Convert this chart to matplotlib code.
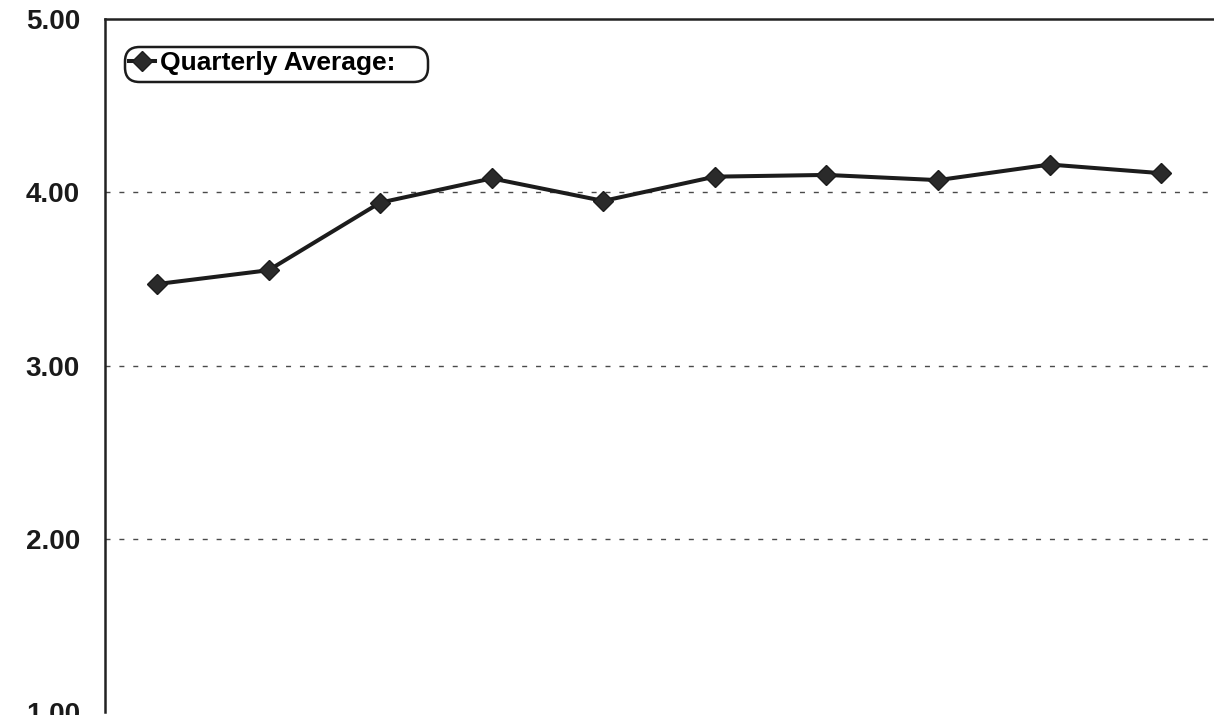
import matplotlib
matplotlib.use("Agg")
import matplotlib.pyplot as plt
from matplotlib.patches import FancyBboxPatch

quarters = list(range(10))
quarterly_avg = [3.47, 3.55, 3.94, 4.08, 3.95, 4.09, 4.10, 4.07, 4.16, 4.11]
y_ticks = [1.0, 2.0, 3.0, 4.0, 5.0]

plt.rcParams['font.family'] = ['Liberation Sans', 'DejaVu Sans']

W, H = 1214, 715
fig = plt.figure(figsize=(W / 100, H / 100), dpi=100)

# plot area in pixels; runs a little past the right and bottom edges
left, right, top, bottom = 105, 1217, 19, 712
ax = fig.add_axes([left / W, 1 - bottom / H, (right - left) / W, (bottom - top) / H])

ax.plot(quarters, quarterly_avg, color="#1c1c1c", lw=2.9, marker="D",
        markersize=10.5, markerfacecolor="#2a2a2a", markeredgecolor="#1c1c1c",
        label="Quarterly Average:", zorder=3)

ax.set_ylim(1, 5)
ax.set_xlim(-0.466, 9.5)
ax.set_yticks(y_ticks)
ax.set_yticklabels([f"{v:.2f}" for v in y_ticks], fontsize=20, fontweight="bold",
                   color="#1a1a1a")
ax.set_xticks([])
ax.tick_params(axis="y", length=0, pad=18)

for v in y_ticks[1:-1]:
    ax.axhline(v, color="#4a4a4a", lw=1.0, ls=(0, (3.6, 6.4)), zorder=1)

for side in ("right", "bottom"):
    ax.spines[side].set_visible(False)
for side in ("left", "top"):
    ax.spines[side].set_linewidth(1.8)
    ax.spines[side].set_color("#222222")

# legend entry without its own frame; the rounded box is drawn separately
ax.legend(loc="upper left", bbox_to_anchor=(0.022, 0.954), frameon=False,
          handlelength=0.95, handletextpad=0.2, borderpad=0.0, borderaxespad=0,
          prop={"weight": "bold", "size": 19})

box_l, box_r, box_t, box_b = 125, 428, 47, 82
frame = FancyBboxPatch((box_l / W, 1 - box_b / H), (box_r - box_l) / W,
                       (box_b - box_t) / H, transform=fig.transFigure,
                       boxstyle="round,pad=0,rounding_size=0.012",
                       mutation_aspect=W / H,
                       fc="none", ec="#1c1c1c", lw=1.8, zorder=5)
fig.patches.append(frame)

fig.savefig("out.png", dpi=100)
